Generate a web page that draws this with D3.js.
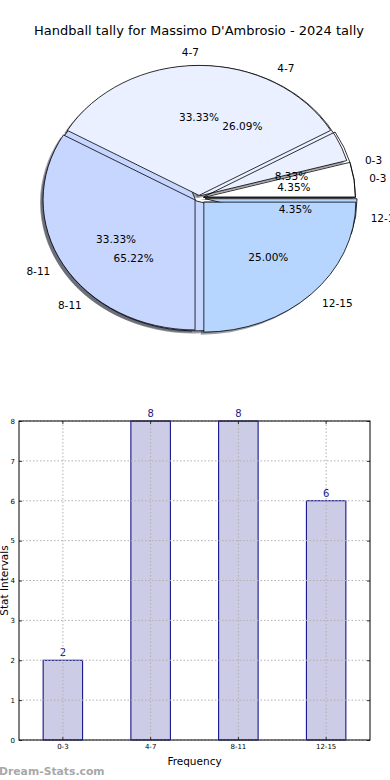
<!DOCTYPE html>
<html>
<head>
<meta charset="utf-8">
<script src="https://cdn.jsdelivr.net/npm/d3@7"></script>
<style>
body { margin: 0; background: #fff; }
text { font-family: "DejaVu Sans", sans-serif; }
</style>
</head>
<body>
<div id="chart"></div>
<script>
const title = "Handball tally for Massimo D'Ambrosio - 2024 tally";
const categories = ["0-3", "4-7", "8-11", "12-15"];
const tallyCounts = [2, 8, 8, 6];      // outer pie + bars
const innerCounts = [1, 6, 15, 1];     // second pie (23 total)
const yTicks = [0, 1, 2, 3, 4, 5, 6, 7, 8];

// styling
const tallyColors = ["none", "#eaf0ff", "#c6d6ff", "#b6d6ff"];
const innerColors = ["#ffffff", "#eaf0ff", "#c6d6ff", "#b6d6ff"];
const tallyExplode = [0.03, 0.02, 0.03, 0.045];
const innerExplode = [0.03, 0.02, 0.03, 0.04];

const W = 390, H = 780;
const svg = d3.select("#chart").append("svg")
    .attr("width", W)
    .attr("height", H);

svg.append("text")
    .attr("x", 199)
    .attr("y", 35)
    .attr("text-anchor", "middle")
    .attr("font-size", 13)
    .text(title);

// ---- pie (elliptical, matplotlib style: ccw from 3 o'clock) ----
const cx = 199, cy = 198, rx = 152, ry = 130;
const arc = d3.arc().innerRadius(0).outerRadius(1);

function slices(counts, explode) {
    return d3.pie().sort(null)(counts).map((d, i) => {
        const mid = (d.startAngle + d.endAngle) / 2;
        return {
            i: i,
            value: d.value,
            a0: d.startAngle,
            a1: d.endAngle,
            mid: mid,
            ex: explode[i] * Math.cos(mid),
            ey: explode[i] * Math.sin(mid),
            e: explode[i]
        };
    });
}

const tally = slices(tallyCounts, tallyExplode);
const inner = slices(innerCounts, innerExplode);

function wedgePath(d) {
    return arc({startAngle: Math.PI / 2 - d.a1, endAngle: Math.PI / 2 - d.a0});
}

const gShadow = svg.append("g");
const gInner = svg.append("g");
const gTally = svg.append("g");
const gText = svg.append("g");

function shadowColor(c) {
    const k = d3.rgb(c === "none" ? "#ffffff" : c);
    return d3.rgb(k.r * 0.3, k.g * 0.3, k.b * 0.3).toString();
}

[inner, tally].forEach((set, s) => {
    const colors = s === 0 ? innerColors : tallyColors;
    set.forEach(d => {
        if (colors[d.i] === "none") return;
        gShadow.append("path")
            .attr("d", wedgePath(d))
            .attr("transform", "translate(" + (cx + (d.ex - 0.02) * rx) + "," + (cy - (d.ey - 0.02) * ry) + ") scale(" + rx + "," + ry + ")")
            .attr("fill", shadowColor(colors[d.i]))
            .attr("fill-opacity", 0.5);
    });
});

function drawWedges(g, set, colors) {
    g.selectAll("path")
        .data(set)
        .join("path")
        .attr("d", wedgePath)
        .attr("transform", d => "translate(" + (cx + d.ex * rx) + "," + (cy - d.ey * ry) + ") scale(" + rx + "," + ry + ")")
        .attr("fill", d => colors[d.i])
        .attr("stroke", "#000")
        .attr("stroke-width", 0.8)
        .attr("vector-effect", "non-scaling-stroke");
}
drawWedges(gInner, inner, innerColors);
drawWedges(gTally, tally, tallyColors);

function drawLabels(set, counts) {
    const total = d3.sum(counts);
    set.forEach(d => {
        const c = Math.cos(d.mid), s = Math.sin(d.mid);
        const rl = 1.1 + d.e, rp = 0.6 + d.e;
        gText.append("text")
            .attr("x", cx + rl * rx * c)
            .attr("y", cy - rl * ry * s)
            .attr("dy", "0.35em")
            .attr("text-anchor", c > 0.01 ? "start" : "end")
            .attr("font-size", 10.5)
            .text(categories[d.i]);
        gText.append("text")
            .attr("x", cx + rp * rx * c)
            .attr("y", cy - rp * ry * s)
            .attr("dy", "0.35em")
            .attr("text-anchor", "middle")
            .attr("font-size", 10.5)
            .text((100 * d.value / total).toFixed(2) + "%");
    });
}
drawLabels(tally, tallyCounts);
drawLabels(inner, innerCounts);

// ---- bar chart ----
const plotLeft = 19, plotRight = 370, plotTop = 421, plotBottom = 740;
const x = d3.scaleBand().domain(categories).range([plotLeft, plotRight]);
const y = d3.scaleLinear().domain([0, 8]).range([plotBottom, plotTop]);
const bw = x.bandwidth() * 0.45;

const bars = svg.append("g");
bars.selectAll("rect")
    .data(tallyCounts)
    .join("rect")
    .attr("x", (d, i) => x(categories[i]) + x.bandwidth() / 2 - bw / 2)
    .attr("y", d => y(d))
    .attr("width", bw)
    .attr("height", d => plotBottom - y(d))
    .attr("fill", "#ccccE6")
    .attr("stroke", "#000080")
    .attr("stroke-width", 1);

const grid = svg.append("g")
    .attr("stroke", "#b0b0b0")
    .attr("stroke-dasharray", "1.5,2");
grid.selectAll("line.h")
    .data(yTicks)
    .join("line")
    .attr("class", "h")
    .attr("x1", plotLeft).attr("x2", plotRight)
    .attr("y1", d => y(d)).attr("y2", d => y(d));
grid.selectAll("line.v")
    .data(categories)
    .join("line")
    .attr("class", "v")
    .attr("x1", d => x(d) + x.bandwidth() / 2).attr("x2", d => x(d) + x.bandwidth() / 2)
    .attr("y1", plotTop).attr("y2", plotBottom);

bars.selectAll("text")
    .data(tallyCounts)
    .join("text")
    .attr("x", (d, i) => x(categories[i]) + x.bandwidth() / 2)
    .attr("y", d => y(d) - 4)
    .attr("text-anchor", "middle")
    .attr("font-size", 10)
    .attr("fill", "#1a1a8c")
    .text(d => d);

function styleAxis(g) {
    g.select(".domain").remove();
    g.selectAll("line").attr("stroke", "#333");
    g.selectAll("text").attr("font-size", 7).attr("font-family", "DejaVu Sans, sans-serif");
}

svg.append("g")
    .attr("transform", "translate(" + plotLeft + ",0)")
    .call(d3.axisLeft(y).tickValues(yTicks).tickSize(-3).tickPadding(4).tickFormat(d3.format("d")))
    .call(styleAxis);
svg.append("g")
    .attr("transform", "translate(" + plotRight + ",0)")
    .call(d3.axisRight(y).tickValues(yTicks).tickSize(-3).tickFormat(""))
    .call(styleAxis);
svg.append("g")
    .attr("transform", "translate(0," + plotBottom + ")")
    .call(d3.axisBottom(x).tickSize(-3).tickPadding(4))
    .call(styleAxis);
svg.append("g")
    .attr("transform", "translate(0," + plotTop + ")")
    .call(d3.axisTop(x).tickSize(-3).tickFormat(""))
    .call(styleAxis);

svg.append("rect")
    .attr("x", plotLeft).attr("y", plotTop)
    .attr("width", plotRight - plotLeft).attr("height", plotBottom - plotTop)
    .attr("fill", "none")
    .attr("stroke", "#000")
    .attr("stroke-width", 1);

svg.append("text")
    .attr("x", (plotLeft + plotRight) / 2)
    .attr("y", 765)
    .attr("text-anchor", "middle")
    .attr("font-size", 10.5)
    .text("Frequency");

svg.append("text")
    .attr("transform", "translate(8," + ((plotTop + plotBottom) / 2) + ") rotate(-90)")
    .attr("text-anchor", "middle")
    .attr("font-size", 10.5)
    .text("Stat Intervals");

svg.append("text")
    .attr("x", -1)
    .attr("y", 775)
    .attr("font-size", 10.8)
    .attr("font-weight", "bold")
    .attr("fill", "#a8a8a8")
    .text("Dream-Stats.com");
</script>
</body>
</html>
